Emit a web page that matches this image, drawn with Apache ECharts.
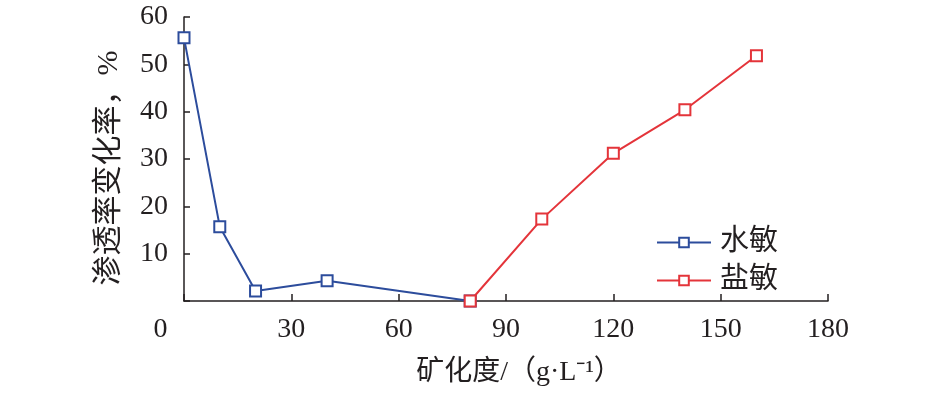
<!DOCTYPE html>
<html>
<head>
<meta charset="utf-8">
<script src="https://cdn.jsdelivr.net/npm/echarts@6/dist/echarts.min.js"></script>
<style>
html,body{margin:0;padding:0;background:#fff;}
#chart{width:945px;height:394px;}
</style>
</head>
<body>
<div id="chart"></div>
<script>
const waterX = [0, 10, 20, 40, 80];
const waterY = [55.6, 15.7, 2.1, 4.3, 0];
const saltX = [80, 100, 120, 140, 160];
const saltY = [0, 17.3, 31.2, 40.4, 51.8];
const seriesNames = ['水敏', '盐敏'];
const xTicks = [0, 30, 60, 90, 120, 150, 180];
const yTicks = [0, 10, 20, 30, 40, 50, 60];
const xName = '矿化度/（g·L⁻¹）';
const yName = '渗透率变化率，%';

const serif = '"Liberation Serif", "DejaVu Serif", serif';
const cjk = '"Liberation Serif", "Noto Sans CJK SC", serif';
const axisColor = '#231f20';
const blue = '#2c4c9c';
const red = '#e4343a';

function pairs(xs, ys) { return xs.map((x, i) => [x, ys[i]]); }

const chart = echarts.init(document.getElementById('chart'), null, {renderer: 'canvas'});
chart.setOption({
  animation: false,
  backgroundColor: '#fff',
  grid: {left: 184, right: 117, top: 17, bottom: 93, containLabel: false},
  legend: {
    orient: 'vertical',
    left: 651,
    top: 223,
    itemWidth: 54,
    itemHeight: 12,
    itemGap: 9,
    textStyle: {fontFamily: cjk, fontSize: 29, color: '#231f20', padding: [0, 0, 0, 4]},
    data: seriesNames
  },
  xAxis: {
    type: 'value',
    min: xTicks[0],
    max: xTicks[xTicks.length - 1],
    interval: 30,
    name: xName,
    nameLocation: 'middle',
    nameGap: 58,
    nameTextStyle: {fontFamily: cjk, fontSize: 28, color: '#231f20', padding: [0, 0, 0, 26]},
    axisLine: {show: true, lineStyle: {color: axisColor, width: 1.5}},
    axisTick: {show: true, inside: true, length: 7, lineStyle: {color: axisColor, width: 1.5}},
    splitLine: {show: false},
    axisLabel: {
      margin: 15,
      fontFamily: serif,
      fontSize: 28,
      color: '#231f20',
      formatter: v => v === 0 ? '{z|0}' : String(v),
      rich: {z: {fontFamily: serif, fontSize: 28, color: '#231f20', padding: [0, 47, 0, 0]}}
    }
  },
  yAxis: {
    type: 'value',
    min: yTicks[0],
    max: yTicks[yTicks.length - 1],
    interval: 10,
    name: yName,
    nameLocation: 'middle',
    nameGap: 60,
    nameRotate: 90,
    nameTextStyle: {fontFamily: cjk, fontSize: 30, color: '#231f20', padding: [0, 18, 0, 0]},
    axisLine: {show: true, lineStyle: {color: axisColor, width: 1.5}},
    axisTick: {show: true, inside: true, length: 6, lineStyle: {color: axisColor, width: 1.5}},
    splitLine: {show: false},
    axisLabel: {
      margin: 16,
      fontFamily: serif,
      fontSize: 28,
      color: '#231f20',
      formatter: v => v === 0 ? '' : String(v)
    }
  },
  series: [
    {
      name: seriesNames[0],
      type: 'line',
      data: pairs(waterX, waterY),
      symbol: 'rect',
      symbolSize: 11,
      lineStyle: {color: blue, width: 2},
      itemStyle: {color: '#fff', borderColor: blue, borderWidth: 2},
      z: 3
    },
    {
      name: seriesNames[1],
      type: 'line',
      data: pairs(saltX, saltY),
      symbol: 'rect',
      symbolSize: 11,
      lineStyle: {color: red, width: 2},
      itemStyle: {color: '#fff', borderColor: red, borderWidth: 2},
      z: 4
    }
  ]
});
</script>
</body>
</html>
